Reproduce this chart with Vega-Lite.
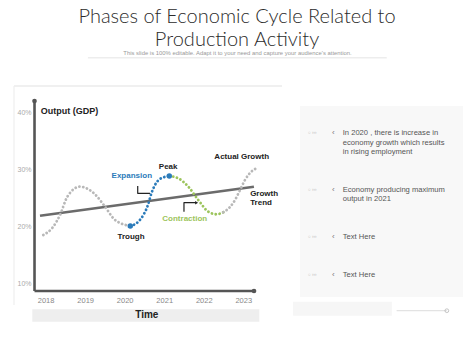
{
  "$schema": "https://vega.github.io/schema/vega-lite/v6.json",
  "width": 474,
  "height": 355,
  "autosize": {"type": "fit", "contains": "padding"},
  "padding": 0,
  "background": "white",
  "config": {"view": {"stroke": null}, "font": "Liberation Sans"},
  "datasets": {
    "boxes": [
      {"name": "frameTop", "year": 2017.2, "year2": 2023.98, "gdp": 44.6, "gdp2": 44.6},
      {"name": "panel", "year": 2024.436, "year2": 2028.559, "gdp": 7.6, "gdp2": 41.11},
      {"name": "footer", "year": 2024.26, "year2": 2026.76, "gdp": 4.32, "gdp2": 6.77},
      {"name": "timebar", "year": 2017.664, "year2": 2023.406, "gdp": 3.26, "gdp2": 5.44}
    ],
    "frameLeft": [{"year": 2017.2, "gdp": 6.19, "gdp2": 44.6}],
    "underline": [{"year": 2019.07, "year2": 2026.63, "gdp": 49.55}],
    "footerLine": [{"year": 2026.88, "year2": 2028.15, "gdp": 5.19}],
    "footerDot": [{"year": 2028.15, "gdp": 5.19}],
    "trend": [
      {"year": 2017.858, "gdp": 21.86},
      {"year": 2023.27, "gdp": 26.95}
    ],
    "curve": [
      {"phase": "lead", "year": 2017.942, "gdp": 18.47},
      {"phase": "lead", "year": 2018.18, "gdp": 19.82},
      {"phase": "lead", "year": 2018.364, "gdp": 21.98},
      {"phase": "lead", "year": 2018.549, "gdp": 25.19},
      {"phase": "lead", "year": 2018.87, "gdp": 26.95},
      {"phase": "lead", "year": 2019.25, "gdp": 25.61},
      {"phase": "lead", "year": 2019.503, "gdp": 23.44},
      {"phase": "lead", "year": 2019.756, "gdp": 21.11},
      {"phase": "lead", "year": 2020.142, "gdp": 20.05},
      {"phase": "expansion", "year": 2020.142, "gdp": 20.05},
      {"phase": "expansion", "year": 2020.336, "gdp": 20.75},
      {"phase": "expansion", "year": 2020.488, "gdp": 22.16},
      {"phase": "expansion", "year": 2020.589, "gdp": 23.74},
      {"phase": "expansion", "year": 2020.679, "gdp": 25.84},
      {"phase": "expansion", "year": 2020.767, "gdp": 27.25},
      {"phase": "expansion", "year": 2020.894, "gdp": 28.3},
      {"phase": "expansion", "year": 2021.129, "gdp": 28.82},
      {"phase": "contraction", "year": 2021.129, "gdp": 28.82},
      {"phase": "contraction", "year": 2021.357, "gdp": 28.42},
      {"phase": "contraction", "year": 2021.61, "gdp": 26.95},
      {"phase": "contraction", "year": 2021.863, "gdp": 24.61},
      {"phase": "contraction", "year": 2022.116, "gdp": 22.56},
      {"phase": "contraction", "year": 2022.328, "gdp": 22.11},
      {"phase": "contraction", "year": 2022.495, "gdp": 22.46},
      {"phase": "trail", "year": 2022.495, "gdp": 22.46},
      {"phase": "trail", "year": 2022.665, "gdp": 23.39},
      {"phase": "trail", "year": 2022.791, "gdp": 24.61},
      {"phase": "trail", "year": 2022.918, "gdp": 26.37},
      {"phase": "trail", "year": 2023.044, "gdp": 28.12},
      {"phase": "trail", "year": 2023.17, "gdp": 29.35},
      {"phase": "trail", "year": 2023.347, "gdp": 30.23}
    ],
    "turns": [
      {"year": 2020.142, "gdp": 20.05},
      {"year": 2021.129, "gdp": 28.82}
    ],
    "connectors": [
      {"id": "e", "step": 1, "year": 2020.33, "gdp": 27.07},
      {"id": "e", "step": 2, "year": 2020.33, "gdp": 25.79},
      {"id": "e", "step": 3, "year": 2020.64, "gdp": 25.79},
      {"id": "c", "step": 1, "year": 2021.5, "gdp": 22.56},
      {"id": "c", "step": 2, "year": 2021.5, "gdp": 24.14},
      {"id": "c", "step": 3, "year": 2021.8, "gdp": 24.14}
    ],
    "arrowHead": [{"year": 2021.82, "gdp": 24.14}],
    "yAxisLine": [{"year": 2017.719, "gdp": 8.65, "gdp2": 41.98}],
    "xAxisLine": [{"year": 2017.719, "year2": 2023.272, "gdp": 8.65}],
    "axisEnds": [
      {"year": 2017.719, "gdp": 41.98},
      {"year": 2023.272, "gdp": 8.65}
    ],
    "titleLines": [
      {"text": "Phases of Economic Cycle Related to", "year": 2022.842, "gdp": 55.6},
      {"text": "Production Activity", "year": 2022.842, "gdp": 51.67}
    ],
    "subtitle": [
      {"text": "This slide is 100% editable. Adapt it to your need and capture your audience's attention.", "year": 2022.855, "gdp": 50.38}
    ],
    "yTitle": [{"text": "Output (GDP)", "year": 2017.876, "gdp": 40.28}],
    "darkLabels": [
      {"text": "Peak", "year": 2021.1, "gdp": 30.4},
      {"text": "Actual Growth", "year": 2022.96, "gdp": 32.21},
      {"text": "Trough", "year": 2020.16, "gdp": 18.18}
    ],
    "trendLabel": [
      {"text": "Growth", "year": 2023.174, "gdp": 25.67},
      {"text": "Trend", "year": 2023.174, "gdp": 24.04}
    ],
    "phaseLabels": [
      {"text": "Expansion", "phase": "expansion", "year": 2020.18, "gdp": 28.82},
      {"text": "Contraction", "phase": "contraction", "year": 2021.52, "gdp": 21.23}
    ],
    "timeLabel": [{"text": "Time", "year": 2020.56, "gdp": 4.35}],
    "notes": [
      {"text": "In 2020 , there is increase in", "year": 2025.516, "gdp": 36.32},
      {"text": "economy growth which results", "year": 2025.516, "gdp": 34.56},
      {"text": "in rising employment", "year": 2025.516, "gdp": 32.98},
      {"text": "Economy producing maximum", "year": 2025.516, "gdp": 26.37},
      {"text": "output in 2021", "year": 2025.516, "gdp": 24.79},
      {"text": "Text Here", "year": 2025.516, "gdp": 18.07},
      {"text": "Text Here", "year": 2025.516, "gdp": 11.46}
    ],
    "bullets": [
      {"year": 2025.278, "gdp": 36.32},
      {"year": 2025.278, "gdp": 26.37},
      {"year": 2025.278, "gdp": 18.07},
      {"year": 2025.278, "gdp": 11.46}
    ],
    "tinyMarks": [
      {"text": "○ ›››", "year": 2024.638, "gdp": 36.32},
      {"text": "○ ›››", "year": 2024.638, "gdp": 26.37},
      {"text": "○ ›››", "year": 2024.638, "gdp": 18.07},
      {"text": "○ ›››", "year": 2024.638, "gdp": 11.46}
    ]
  },
  "encoding": {
    "x": {
      "field": "year",
      "type": "quantitative",
      "scale": {"domain": [2016.846, 2028.837], "nice": false, "zero": false},
      "axis": {
        "values": [2018, 2019, 2020, 2021, 2022, 2023],
        "format": "d",
        "orient": "bottom",
        "offset": -64,
        "domain": false,
        "ticks": false,
        "tickSize": 0,
        "grid": false,
        "labelFlush": false,
        "labelPadding": 5,
        "labelFontSize": 7.5,
        "labelColor": "#888888",
        "title": null
      }
    },
    "y": {
      "field": "gdp",
      "type": "quantitative",
      "scale": {"domain": [-2.58, 59.7], "nice": false, "zero": false},
      "axis": {
        "values": [10, 20, 30, 40],
        "labelExpr": "datum.value + '%'",
        "orient": "left",
        "offset": -35,
        "domain": false,
        "ticks": false,
        "tickSize": 0,
        "grid": false,
        "labelFlush": false,
        "labelPadding": 4,
        "labelFontSize": 7,
        "labelColor": "#aaaaaa",
        "title": null
      }
    }
  },
  "layer": [
    {
      "data": {"name": "boxes"},
      "transform": [{"filter": "datum.name === 'panel'"}],
      "mark": {"type": "rect", "color": "#f8f8f8"},
      "encoding": {"x2": {"field": "year2"}, "y2": {"field": "gdp2"}}
    },
    {
      "data": {"name": "boxes"},
      "transform": [{"filter": "datum.name === 'footer'"}],
      "mark": {"type": "rect", "color": "#f6f6f6"},
      "encoding": {"x2": {"field": "year2"}, "y2": {"field": "gdp2"}}
    },
    {
      "data": {"name": "boxes"},
      "transform": [{"filter": "datum.name === 'timebar'"}],
      "mark": {"type": "rect", "color": "#eeeeee"},
      "encoding": {"x2": {"field": "year2"}, "y2": {"field": "gdp2"}}
    },
    {
      "data": {"name": "boxes"},
      "transform": [{"filter": "datum.name === 'frameTop'"}],
      "mark": {"type": "rule", "color": "#ebebeb", "strokeWidth": 1.5},
      "encoding": {"x2": {"field": "year2"}}
    },
    {
      "data": {"name": "frameLeft"},
      "mark": {"type": "rule", "color": "#efefef", "strokeWidth": 1.2},
      "encoding": {"y2": {"field": "gdp2"}}
    },
    {
      "data": {"name": "underline"},
      "mark": {"type": "rule", "color": "#dddddd", "strokeWidth": 0.8},
      "encoding": {"x2": {"field": "year2"}}
    },
    {
      "data": {"name": "footerLine"},
      "mark": {"type": "rule", "color": "#cccccc", "strokeWidth": 0.7},
      "encoding": {"x2": {"field": "year2"}}
    },
    {
      "data": {"name": "footerDot"},
      "mark": {"type": "point", "filled": false, "color": "#999999", "size": 14, "strokeWidth": 0.8},
      "encoding": {}
    },
    {
      "data": {"name": "trend"},
      "mark": {"type": "line", "color": "#6b6b6b", "strokeWidth": 2.6},
      "encoding": {}
    },
    {
      "data": {"name": "curve"},
      "mark": {"type": "line", "interpolate": "monotone", "strokeWidth": 2.8, "strokeCap": "round", "strokeDash": [0.1, 3.8]},
      "encoding": {
        "color": {
          "field": "phase",
          "type": "nominal",
          "scale": {"domain": ["lead", "expansion", "contraction", "trail"], "range": ["#b8b8b8", "#2b7bba", "#9cc45c", "#b8b8b8"]},
          "legend": null
        }
      }
    },
    {
      "data": {"name": "turns"},
      "mark": {"type": "point", "filled": true, "color": "#2b7bba", "size": 30, "opacity": 1},
      "encoding": {}
    },
    {
      "data": {"name": "connectors"},
      "mark": {"type": "line", "color": "#222222", "strokeWidth": 1.2, "strokeJoin": "round"},
      "encoding": {"detail": {"field": "id"}, "order": {"field": "step"}}
    },
    {
      "data": {"name": "arrowHead"},
      "mark": {"type": "point", "shape": "triangle-right", "filled": true, "color": "#222222", "size": 12, "opacity": 1},
      "encoding": {}
    },
    {
      "data": {"name": "yAxisLine"},
      "mark": {"type": "rule", "color": "#555555", "strokeWidth": 2.6},
      "encoding": {"y2": {"field": "gdp2"}}
    },
    {
      "data": {"name": "xAxisLine"},
      "mark": {"type": "rule", "color": "#555555", "strokeWidth": 2.6},
      "encoding": {"x2": {"field": "year2"}}
    },
    {
      "data": {"name": "axisEnds"},
      "mark": {"type": "point", "filled": true, "color": "#555555", "size": 22, "opacity": 1},
      "encoding": {}
    },
    {
      "data": {"name": "titleLines"},
      "mark": {"type": "text", "font": "Lato", "fontWeight": 300, "fontSize": 20, "color": "#2b2b2b", "align": "center", "baseline": "alphabetic"},
      "encoding": {"text": {"field": "text"}}
    },
    {
      "data": {"name": "subtitle"},
      "mark": {"type": "text", "fontSize": 5.9, "color": "#999999", "align": "center", "baseline": "middle"},
      "encoding": {"text": {"field": "text"}}
    },
    {
      "data": {"name": "yTitle"},
      "mark": {"type": "text", "fontSize": 9, "fontWeight": "bold", "color": "#222222", "align": "left", "baseline": "middle"},
      "encoding": {"text": {"field": "text"}}
    },
    {
      "data": {"name": "darkLabels"},
      "mark": {"type": "text", "fontSize": 8, "fontWeight": "bold", "color": "#222222", "align": "center", "baseline": "middle"},
      "encoding": {"text": {"field": "text"}}
    },
    {
      "data": {"name": "trendLabel"},
      "mark": {"type": "text", "fontSize": 8, "fontWeight": "bold", "color": "#222222", "align": "left", "baseline": "middle"},
      "encoding": {"text": {"field": "text"}}
    },
    {
      "data": {"name": "phaseLabels"},
      "mark": {"type": "text", "fontSize": 8, "fontWeight": "bold", "align": "center", "baseline": "middle"},
      "encoding": {"text": {"field": "text"}, "color": {"field": "phase", "type": "nominal", "legend": null}}
    },
    {
      "data": {"name": "timeLabel"},
      "mark": {"type": "text", "fontSize": 10, "fontWeight": "bold", "color": "#222222", "align": "center", "baseline": "middle"},
      "encoding": {"text": {"field": "text"}}
    },
    {
      "data": {"name": "notes"},
      "mark": {"type": "text", "fontSize": 7.6, "color": "#555555", "align": "left", "baseline": "middle"},
      "encoding": {"text": {"field": "text"}}
    },
    {
      "data": {"name": "bullets"},
      "mark": {"type": "text", "text": "‹", "fontSize": 8, "color": "#777777", "align": "center", "baseline": "middle"},
      "encoding": {}
    },
    {
      "data": {"name": "tinyMarks"},
      "mark": {"type": "text", "fontSize": 4.5, "color": "#bbbbbb", "align": "left", "baseline": "middle"},
      "encoding": {"text": {"field": "text"}}
    }
  ]
}
